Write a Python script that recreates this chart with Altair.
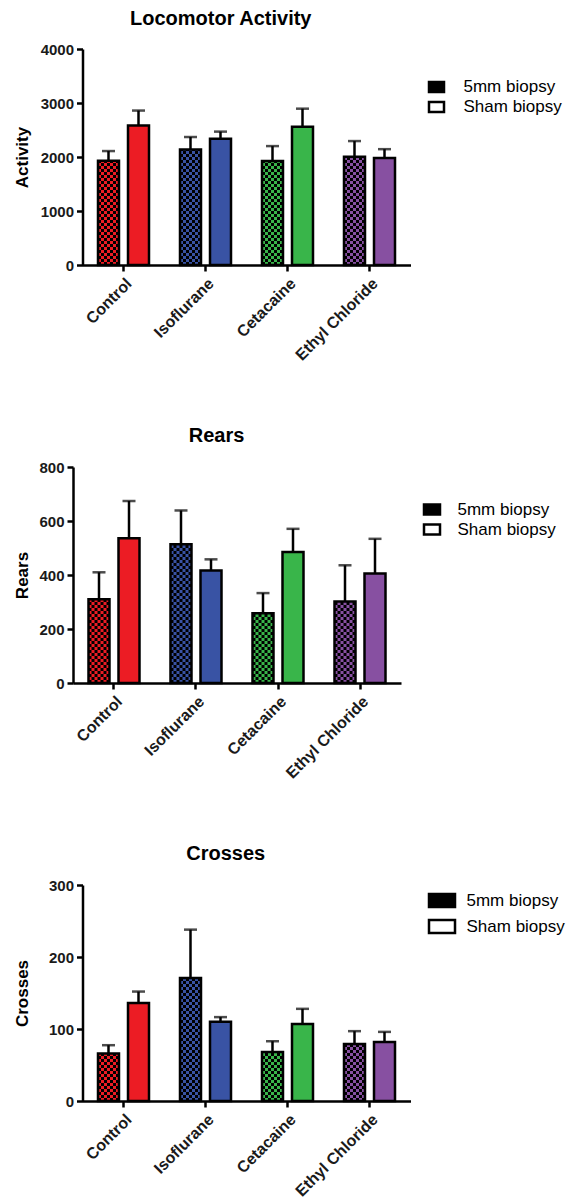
import altair as alt
import pandas as pd
import numpy as np

categories = ["Control", "Isoflurane", "Cetacaine", "Ethyl Chloride"]
groups = ["5mm biopsy", "Sham biopsy"]
colors = ["#ec1c24", "#3953a4", "#39b54a", "#8750a1"]

# Locomotor Activity (mean, SEM)
loco_5mm = [1930, 2140, 1925, 2005]
loco_5mm_sem = [180, 230, 277, 290]
loco_sham = [2585, 2340, 2560, 1980]
loco_sham_sem = [275, 130, 335, 165]

# Rears
rears_5mm = [310, 514, 258, 302]
rears_5mm_sem = [100, 125, 75, 134]
rears_sham = [536, 417, 485, 406]
rears_sham_sem = [138, 41, 86, 128]

# Crosses
cross_5mm = [66, 171, 68, 79]
cross_5mm_sem = [11.5, 67, 15, 18]
cross_sham = [136, 110, 107, 82]
cross_sham_sem = [16, 6.5, 21, 14]

W = 328
H = 216
CELL_PX = 3
N_SLOTS = 17  # 7 cells for the 5mm bar, 3 gap, 7 for sham bar
FONT = "Liberation Sans"


def cell_table(v5, ymax):
    h = ymax * CELL_PX / H
    rows = []
    for cat, v in zip(categories, v5):
        nr = int(np.ceil(v / h))
        for r in range(nr):
            for c in range(7):
                if (r + c) % 2 == 0:
                    rows.append({"category": cat, "slot": c,
                                 "y0": r * h, "y1": min((r + 1) * h, v)})
    return pd.DataFrame(rows)


def panel(title, ytitle, v5, s5, vs, ss, ymax, step, title_pad, shift,
          title_dx, title_offset, leg_x, leg_y, sym_path, sym_size, row_pad, lab_off):
    df = pd.DataFrame({
        "category": categories * 2,
        "group": [groups[0]] * 4 + [groups[1]] * 4,
        "value": v5 + vs,
        "sem": s5 + ss,
    })
    df["upper"] = df["value"] + df["sem"]

    xscale = alt.Scale(domain=categories, paddingInner=0.378, paddingOuter=0.189,
                       range=[shift, shift + W])
    xaxis = alt.Axis(title=None, labelAngle=-45)
    yscale = alt.Scale(domain=[0, ymax], nice=False)
    yaxis = alt.Axis(title=ytitle, values=list(range(0, ymax + 1, step)), format="d",
                     titlePadding=title_pad, offset=-shift)

    def X():
        return alt.X("category:N", sort=categories, scale=xscale, axis=xaxis)

    def XO():
        return alt.XOffset("group:N", sort=groups,
                           scale=alt.Scale(domain=groups, paddingInner=0.3, paddingOuter=0))

    def Y(f):
        return alt.Y(f, scale=yscale, axis=yaxis)

    base = alt.Chart(df)
    bars = base.mark_bar(strokeWidth=0).encode(
        x=X(), xOffset=XO(), y=Y("value:Q"),
        color=alt.Color("category:N", scale=alt.Scale(domain=categories, range=colors), legend=None),
    )
    cells = alt.Chart(cell_table(v5, ymax)).mark_bar(color="black", strokeWidth=0).encode(
        x=X(),
        xOffset=alt.XOffset("slot:O", scale=alt.Scale(domain=list(range(N_SLOTS)),
                                                       paddingInner=0, paddingOuter=0)),
        y=Y("y0:Q"), y2="y1:Q",
    )
    outline = base.mark_bar(fillOpacity=0, stroke="black", strokeWidth=2.5).encode(
        x=X(), xOffset=XO(), y=Y("value:Q"))
    err = base.mark_rule(color="black", strokeWidth=2.5).encode(
        x=X(), xOffset=XO(), y=Y("value:Q"), y2="upper:Q")
    cap = base.mark_tick(color="black", thickness=2.5, size=13, orient="horizontal").encode(
        x=X(), xOffset=XO(), y=Y("upper:Q"))
    leg = base.transform_filter("false").mark_bar(stroke="black", strokeWidth=2.5).encode(
        x=X(), y=Y("value:Q"),
        fill=alt.Fill("group:N", scale=alt.Scale(domain=groups, range=["black", "white"]),
                      legend=alt.Legend(title=None, orient="none", legendX=leg_x, legendY=leg_y,
                                        symbolType=sym_path, symbolSize=sym_size,
                                        symbolStrokeWidth=2.5, symbolStrokeColor="black",
                                        labelFont=FONT, labelFontSize=17, labelColor="black",
                                        labelOffset=lab_off, rowPadding=row_pad, padding=0)),
    )
    layer = alt.layer(bars, cells, outline, err, cap, leg).resolve_scale(xOffset="independent")
    return layer.properties(
        width=W + shift, height=H,
        title=alt.TitleParams(title, font=FONT, fontSize=20, fontWeight="bold", color="black",
                              anchor="middle", frame="group", dx=title_dx, offset=title_offset),
    )


p1 = panel("Locomotor Activity", "Activity", loco_5mm, loco_5mm_sem, loco_sham, loco_sham_sem,
           4000, 1000, 8.5, 9.5, -21, 13, 354.5, 29, "M-1,-0.67H1V0.67H-1Z", 225, -6, 18)
p2 = panel("Rears", "Rears", rears_5mm, rears_5mm_sem, rears_sham, rears_sham_sem,
           800, 200, 7.5, 0, -20.5, 14, 349.5, 33, "M-1,-0.62H1V0.62H-1Z", 256, -3, 16)
p3 = panel("Crosses", "Crosses", cross_5mm, cross_5mm_sem, cross_sham, cross_sham_sem,
           300, 100, 17, 9.5, -16, 14, 354.5, 1, "M-1,-0.5H1V0.5H-1Z", 676, -3, 10)

chart = alt.vconcat(p1, p2, p3, spacing=62).resolve_scale(
    fill="independent", color="independent", x="independent", y="independent",
    xOffset="independent",
).resolve_legend(fill="independent").properties(
    padding={"left": 5, "top": 1, "right": 0, "bottom": 5}
).configure_view(stroke=None).configure_axis(
    labelFont=FONT, labelFontWeight="bold", labelFontSize=15, labelColor="#1a1a1a",
    titleFont=FONT, titleFontWeight="bold", titleFontSize=17, titleColor="black",
    domainColor="black", domainWidth=2.5, tickColor="black", tickWidth=2.5, tickSize=6,
    grid=False, labelPadding=3,
).configure_axisX(labelFontSize=16, labelPadding=4)

chart.save("out.html", embed_options={"renderer": "svg", "actions": False})
